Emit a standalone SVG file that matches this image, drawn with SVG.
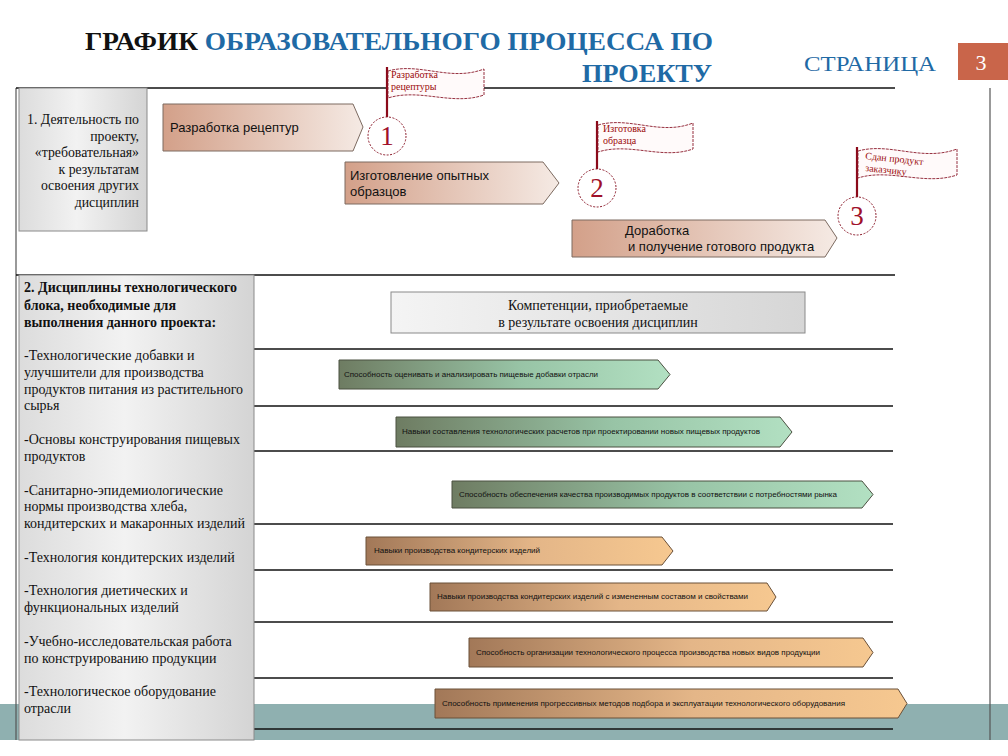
<svg xmlns="http://www.w3.org/2000/svg" width="1008" height="756" viewBox="0 0 1008 756">
<defs>
<linearGradient id="gGray" x1="0" y1="0" x2="1" y2="0">
<stop offset="0" stop-color="#dcdcdc"/><stop offset="0.45" stop-color="#f2f2f2"/><stop offset="1" stop-color="#d4d4d4"/>
</linearGradient>
<linearGradient id="gComp" x1="0" y1="0" x2="1" y2="0">
<stop offset="0" stop-color="#f4f4f4"/><stop offset="1" stop-color="#d6d6d6"/>
</linearGradient>
<linearGradient id="gTan" x1="0" y1="0" x2="1" y2="0">
<stop offset="0" stop-color="#d3a089"/><stop offset="1" stop-color="#f5eae4"/>
</linearGradient>
<linearGradient id="gGreen" x1="0" y1="0" x2="1" y2="0">
<stop offset="0" stop-color="#6e7c62"/><stop offset="0.55" stop-color="#98c4a6"/><stop offset="1" stop-color="#b2e0c2"/>
</linearGradient>
<linearGradient id="gBrown" x1="0" y1="0" x2="1" y2="0">
<stop offset="0" stop-color="#a27858"/><stop offset="0.55" stop-color="#e4b688"/><stop offset="1" stop-color="#f6c890"/>
</linearGradient>
</defs>
<style>
.frame{stroke:#555;stroke-width:1.2;fill:none}
.rule{stroke:#111;stroke-width:1.3}
.box{stroke:#8a8a8a;stroke-width:1}
.sans{font-family:"Liberation Sans","DejaVu Sans",sans-serif;fill:#111}
.ta{fill:url(#gTan);stroke:#7c6a60;stroke-width:1}
.gr{fill:url(#gGreen);stroke:#4a5040;stroke-width:1}
.br{fill:url(#gBrown);stroke:#6a5038;stroke-width:1}
.sm{font-size:8px}
.circ{fill:#fff;stroke:#8b1a2a;stroke-width:1;stroke-dasharray:2 1.5}
.num{font-family:"Liberation Serif","DejaVu Serif",serif;font-size:27px;fill:#a0102a;text-anchor:middle}
.pole{stroke:#8b0a1a;stroke-width:2.2}
.flag{fill:#fffafa;stroke:#8b1a2a;stroke-width:0.9;stroke-dasharray:3 1}
.ft{font-family:"Liberation Serif","DejaVu Serif",serif;font-size:10px;fill:#9b0a0a}
</style>
<rect width="1008" height="756" fill="#fff"/>

<g id="title" font-family="Liberation Serif, DejaVu Serif, serif" style="font-family:'Liberation Serif','DejaVu Serif',serif">
<text x="85" y="50" font-size="25" font-weight="bold" textLength="628" lengthAdjust="spacingAndGlyphs"><tspan fill="#111">ГРАФИК </tspan><tspan fill="#1f6aa5">ОБРАЗОВАТЕЛЬНОГО ПРОЦЕССА ПО</tspan></text>
<text x="582" y="82" font-size="25" font-weight="bold" fill="#1f6aa5" textLength="130" lengthAdjust="spacingAndGlyphs">ПРОЕКТУ</text>
<text x="804" y="71" font-size="22" fill="#1f6aa5" textLength="132" lengthAdjust="spacingAndGlyphs">СТРАНИЦА</text>
<rect x="958" y="43" width="50" height="37" fill="#c9654a"/>
<text x="981" y="70" font-size="22" fill="#fff" text-anchor="middle">3</text>
</g>

<g id="grid">
<rect x="0" y="704" width="1008" height="36" fill="#8fb0b0"/>
<line class="frame" x1="16" y1="88" x2="16" y2="740"/>
<line class="frame" x1="990" y1="88" x2="990" y2="740"/>
<line class="rule" x1="16" y1="88" x2="895" y2="88"/>
<line class="rule" x1="16" y1="275" x2="895" y2="275"/>
<line class="rule" x1="254" y1="349" x2="893" y2="349"/>
<line class="rule" x1="254" y1="406" x2="893" y2="406"/>
<line class="rule" x1="254" y1="451" x2="893" y2="451"/>
<line class="rule" x1="254" y1="524" x2="893" y2="524"/>
<line class="rule" x1="254" y1="570" x2="893" y2="570"/>
<line class="rule" x1="254" y1="622" x2="893" y2="622"/>
<line class="rule" x1="254" y1="678" x2="893" y2="678"/>
<line class="rule" x1="254" y1="729" x2="893" y2="729"/>
</g>

<g id="box-activity">
<rect class="box" x="19" y="88" width="128" height="143" fill="url(#gGray)"/>
<g font-family="Liberation Serif, DejaVu Serif, serif" style="font-family:'Liberation Serif','DejaVu Serif',serif" font-size="13.8" text-anchor="end" fill="#111">
<text x="139" y="124">1. Деятельность по</text>
<text x="139" y="141">проекту,</text>
<text x="139" y="157">«требовательная»</text>
<text x="139" y="174">к результатам</text>
<text x="139" y="190">освоения других</text>
<text x="139" y="207">дисциплин</text>
</g>
</g>

<g id="box-disciplines">
<rect class="box" x="19" y="275" width="235" height="465" fill="url(#gGray)"/>
<g font-family="Liberation Serif, DejaVu Serif, serif" style="font-family:'Liberation Serif','DejaVu Serif',serif" font-size="14" fill="#111">
<text x="24" y="292" font-weight="bold" textLength="213" lengthAdjust="spacingAndGlyphs">2. Дисциплины технологического</text>
<text x="24" y="310" font-weight="bold">блока, необходимые для</text>
<text x="24" y="327" font-weight="bold">выполнения данного проекта:</text>
<text x="24" y="360">-Технологические добавки и</text>
<text x="24" y="377">улучшители для производства</text>
<text x="24" y="394" textLength="219" lengthAdjust="spacingAndGlyphs">продуктов питания из растительного</text>
<text x="24" y="410">сырья</text>
<text x="24" y="444">-Основы конструирования пищевых</text>
<text x="24" y="461">продуктов</text>
<text x="24" y="495">-Санитарно-эпидемиологические</text>
<text x="24" y="511">нормы производства хлеба,</text>
<text x="24" y="528" textLength="221" lengthAdjust="spacingAndGlyphs">кондитерских и макаронных изделий</text>
<text x="24" y="562">-Технология кондитерских изделий</text>
<text x="24" y="595">-Технология диетических и</text>
<text x="24" y="612">функциональных изделий</text>
<text x="24" y="646">-Учебно-исследовательская работа</text>
<text x="24" y="663">по конструированию продукции</text>
<text x="24" y="696">-Технологическое оборудование</text>
<text x="24" y="713">отрасли</text>
</g>
</g>

<g id="step-1">
<path class="ta" d="M163,104 H353 L363,127 L353,151 H163 Z"/>
<text class="sans" x="170" y="132" font-size="13">Разработка рецептур</text>
</g>
<g id="step-2">
<path class="ta" d="M345,162 H543 L559,183 L543,204 H345 Z"/>
<text class="sans" x="350" y="180" font-size="13">Изготовление опытных</text>
<text class="sans" x="350" y="196" font-size="13">образцов</text>
</g>
<g id="step-3">
<path class="ta" d="M572,220 H825 L837,238 L825,257 H572 Z"/>
<text class="sans" x="625" y="235" font-size="13">Доработка</text>
<text class="sans" x="628" y="251" font-size="13">и получение готового продукта</text>
</g>

<g id="milestone-1">
<line class="pole" x1="387" y1="117" x2="387" y2="67"/>
<path class="flag" d="M388,71 C420,62 450,82 484,69 L484,95 C452,106 420,88 388,98 Z"/>
<text class="ft" x="391" y="78">Разработка</text>
<text class="ft" x="391" y="90">рецептуры</text>
<circle class="circ" cx="387" cy="136" r="19"/>
<text class="num" x="387" y="145">1</text>
</g>
<g id="milestone-2">
<line class="pole" x1="597" y1="169" x2="597" y2="121"/>
<path class="flag" d="M598,125 C630,116 660,136 693,123 L693,149 C662,160 630,142 598,152 Z"/>
<text class="ft" x="603" y="132">Изготовка</text>
<text class="ft" x="603" y="144">образца</text>
<circle class="circ" cx="597" cy="188" r="19"/>
<text class="num" x="597" y="197">2</text>
</g>
<g id="milestone-3">
<line class="pole" x1="857" y1="197" x2="857" y2="147"/>
<path class="flag" d="M858,151 C890,142 922,162 957,149 L957,175 C924,186 890,168 858,178 Z"/>
<text class="ft" x="865" y="159" transform="rotate(6 865 159)">Сдан продукт</text>
<text class="ft" x="865" y="171" transform="rotate(6 865 171)">заказчику</text>
<circle class="circ" cx="857" cy="216" r="19"/>
<text class="num" x="857" y="225">3</text>
</g>

<g id="competencies-header">
<rect x="391" y="292" width="414" height="41" fill="url(#gComp)" stroke="#8a8a8a" stroke-width="1"/>
<g font-family="Liberation Serif, DejaVu Serif, serif" style="font-family:'Liberation Serif','DejaVu Serif',serif" font-size="14" text-anchor="middle" fill="#111">
<text x="598" y="310">Компетенции, приобретаемые</text>
<text x="598" y="327">в результате освоения дисциплин</text>
</g>
</g>

<g id="comp-1">
<path class="gr" d="M339,360 H658 L670,374.5 L658,389 H339 Z"/>
<text class="sans sm" x="344" y="377" textLength="254" lengthAdjust="spacingAndGlyphs">Способность оценивать и анализировать пищевые добавки отрасли</text>
</g>
<g id="comp-2">
<path class="gr" d="M396,417 H780 L792,432 L780,447 H396 Z"/>
<text class="sans sm" x="402" y="434" textLength="358" lengthAdjust="spacingAndGlyphs">Навыки составления технологических расчетов при проектировании новых пищевых продуктов</text>
</g>
<g id="comp-3">
<path class="gr" d="M452,481 H862 L873,494.5 L862,508 H452 Z"/>
<text class="sans sm" x="459" y="497" textLength="378" lengthAdjust="spacingAndGlyphs">Способность обеспечения качества производимых продуктов в соответствии с потребностями рынка</text>
</g>
<g id="comp-4">
<path class="br" d="M366,537 H662 L673,551 L662,565 H366 Z"/>
<text class="sans sm" x="374" y="553" textLength="166" lengthAdjust="spacingAndGlyphs">Навыки производства кондитерских изделий</text>
</g>
<g id="comp-5">
<path class="br" d="M430,583 H767 L776,597 L767,611 H430 Z"/>
<text class="sans sm" x="437" y="599" textLength="311" lengthAdjust="spacingAndGlyphs">Навыки производства кондитерских изделий с измененным составом и свойствами</text>
</g>
<g id="comp-6">
<path class="br" d="M469,638 H863 L873,652.5 L863,667 H469 Z"/>
<text class="sans sm" x="476" y="655" textLength="344" lengthAdjust="spacingAndGlyphs">Способность организации технологического процесса производства новых видов продукции</text>
</g>
<g id="comp-7">
<path class="br" d="M435,689 H898 L907,703.5 L898,718 H435 Z"/>
<text class="sans sm" x="442" y="706" textLength="403" lengthAdjust="spacingAndGlyphs">Способность применения прогрессивных методов подбора и эксплуатации технологического оборудования</text>
</g>
</svg>
